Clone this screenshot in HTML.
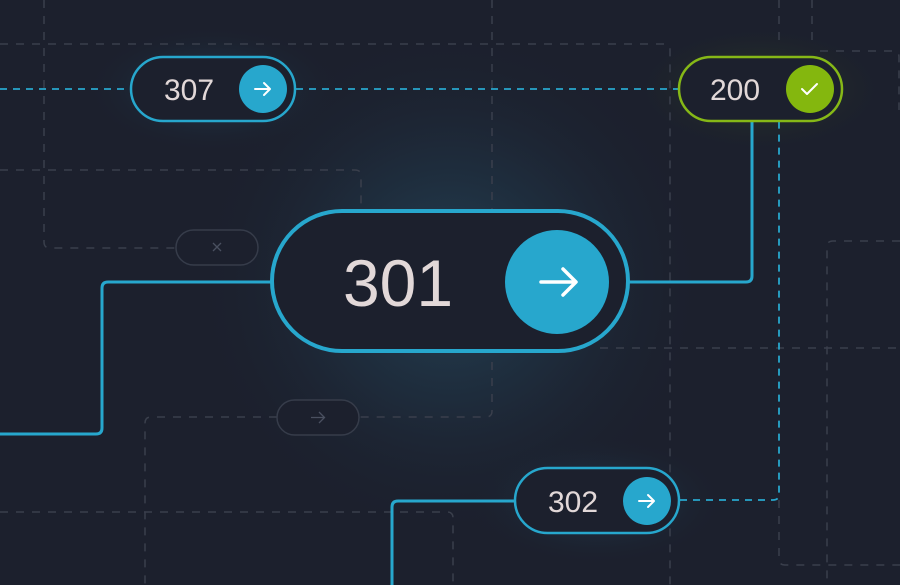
<!DOCTYPE html>
<html><head><meta charset="utf-8"><style>
html,body{margin:0;padding:0;background:#1c202d;width:900px;height:585px;overflow:hidden}
svg{display:block}
text{font-family:"Liberation Sans",sans-serif;fill:#e2d8d8}
</style></head><body>
<svg width="900" height="585" viewBox="0 0 900 585" xmlns="http://www.w3.org/2000/svg">
<defs>
<radialGradient id="g1" cx="450" cy="282" r="260" gradientUnits="userSpaceOnUse">
<stop offset="0" stop-color="#24465a" stop-opacity="0.9"/>
<stop offset="0.5" stop-color="#1f3142" stop-opacity="0.6"/>
<stop offset="1" stop-color="#1c202d" stop-opacity="0"/>
</radialGradient>
<radialGradient id="gb" cx="0.5" cy="0.5" r="0.5">
<stop offset="0" stop-color="#23506a" stop-opacity="0.7"/>
<stop offset="1" stop-color="#1c202d" stop-opacity="0"/>
</radialGradient>
<radialGradient id="gg" cx="0.5" cy="0.5" r="0.5">
<stop offset="0" stop-color="#3e5a1a" stop-opacity="0.6"/>
<stop offset="1" stop-color="#1c202d" stop-opacity="0"/>
</radialGradient>
</defs>
<rect width="900" height="585" fill="#1c202d"/>
<rect width="900" height="585" fill="url(#g1)"/>
<ellipse cx="213" cy="89" rx="130" ry="65" fill="url(#gb)"/>
<ellipse cx="597" cy="501" rx="130" ry="65" fill="url(#gb)"/>
<ellipse cx="760" cy="89" rx="130" ry="65" fill="url(#gg)"/>

<g fill="none" stroke="#3a3f4c" stroke-width="1.5" stroke-dasharray="8 8">
<path d="M44 0 V242 Q44 248 50 248 H176"/>
<path d="M0 44 H664 Q670 44 670 50 V585"/>
<path d="M492 0 V210"/>
<path d="M492 362 V411 Q492 417 486 417 H360"/>
<path d="M277 417 H151 Q145 417 145 423 V585"/>
<path d="M0 170 H355 Q361 170 361 176 V205"/>
<path d="M779 0 V42"/>
<path d="M779 500 V559 Q779 565 785 565 H900"/>
<path d="M812 0 V45"/>
<path d="M820 51 H893 Q899 51 899 57 V110"/>
<path d="M900 241 H833 Q827 241 827 247 V585"/>
<path d="M600 348 H900"/>
<path d="M0 512 H447 Q453 512 453 518 V585"/>
</g>

<g fill="none" stroke="#27a7cd" stroke-width="1.8" stroke-dasharray="7 6">
<path d="M0 89 H130"/>
<path d="M296 89 H678"/>
<path d="M680 500 H773 Q779 500 779 494 V122"/>
</g>
<g fill="none" stroke="#27a7cd" stroke-width="3">
<path d="M271 282 H108 Q102 282 102 288 V428 Q102 434 96 434 H0"/>
<path d="M629 282 H746 Q752 282 752 276 V122"/>
<path d="M514 501 H398 Q392 501 392 507 V585"/>
</g>

<!-- ghost pills -->
<rect x="176" y="230" width="82" height="35" rx="17.5" fill="#1c202d" stroke="#363c4a" stroke-width="1.5"/>
<path d="M213 243 l8 8 M221 243 l-8 8" stroke="#4a5060" stroke-width="1.3"/>
<rect x="277" y="400" width="82" height="35" rx="17.5" fill="#1c202d" stroke="#363c4a" stroke-width="1.5"/>
<path d="M311 417.5 h13 M319 412 l5.5 5.5 -5.5 5.5" stroke="#4a5060" stroke-width="1.3" fill="none"/>

<!-- 307 -->
<rect x="131" y="57" width="164" height="64" rx="32" fill="#1c202d" stroke="#27a7cd" stroke-width="2.5"/>
<text x="189" y="100" font-size="30" text-anchor="middle">307</text>
<circle cx="263" cy="89" r="24" fill="#27a7cd"/>
<path d="M255 89 h15 M264 83 l6 6 -6 6" stroke="#fff" stroke-width="2" fill="none" stroke-linecap="round" stroke-linejoin="round"/>

<!-- 200 -->
<rect x="679" y="57" width="163" height="64" rx="32" fill="#1c202d" stroke="#86b817" stroke-width="2.5"/>
<text x="735" y="100" font-size="30" text-anchor="middle">200</text>
<circle cx="810" cy="89" r="24" fill="#84b70e"/>
<path d="M802 89 l5 5 10 -10" stroke="#fff" stroke-width="2" fill="none" stroke-linecap="round" stroke-linejoin="round"/>

<!-- 301 -->
<rect x="272" y="211" width="356" height="140" rx="70" fill="#1c202d" stroke="#27a7cd" stroke-width="4"/>
<text x="398" y="306" font-size="66" text-anchor="middle">301</text>
<circle cx="557" cy="282" r="52" fill="#27a7cd"/>
<path d="M541 282 h34 M563 269 l13 13 -13 13" stroke="#fff" stroke-width="3.5" fill="none" stroke-linecap="round" stroke-linejoin="round"/>

<!-- 302 -->
<rect x="515" y="468" width="164" height="65" rx="32.5" fill="#1c202d" stroke="#27a7cd" stroke-width="2.5"/>
<text x="573" y="512" font-size="30" text-anchor="middle">302</text>
<circle cx="647" cy="501" r="24" fill="#27a7cd"/>
<path d="M639 501 h15 M648 495 l6 6 -6 6" stroke="#fff" stroke-width="2" fill="none" stroke-linecap="round" stroke-linejoin="round"/>
</svg>
</body></html>
